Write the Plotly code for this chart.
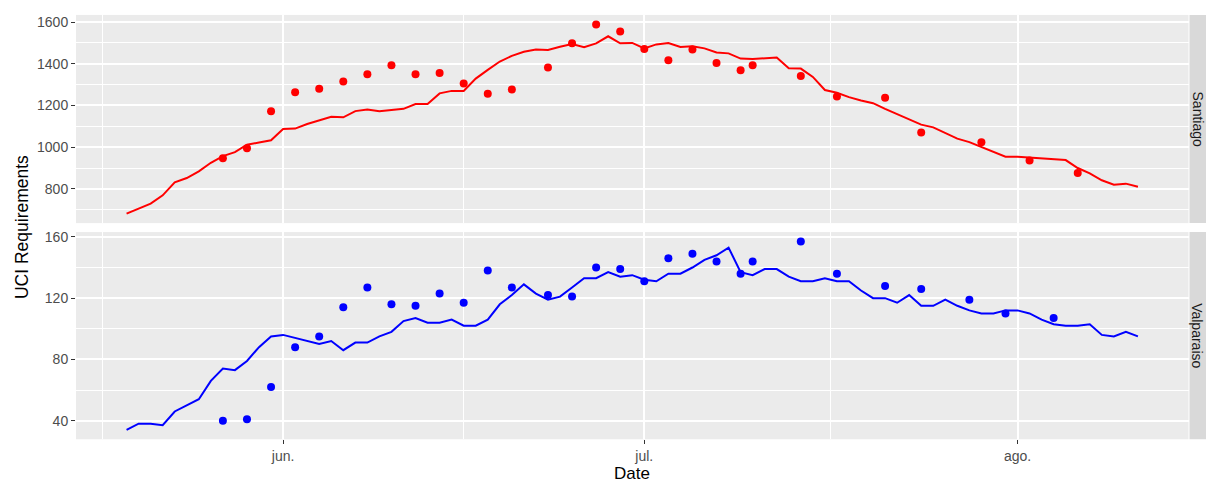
import pandas as pd
import plotly.graph_objects as go

# ---------------- data ----------------
line_dates = pd.date_range("2020-05-19", "2020-08-11", freq="D")

santiago_line = [681, 705, 729, 769, 831, 852, 884, 925, 957, 976, 1012, 1022, 1033,
                 1087, 1089, 1111, 1129, 1146, 1143, 1173, 1181, 1172, 1178,
                 1184, 1207, 1207, 1258, 1270, 1270, 1329, 1371, 1411, 1438,
                 1458, 1468, 1466, 1482, 1495, 1479, 1498, 1532, 1498, 1500,
                 1474, 1493, 1500, 1481, 1484, 1474, 1454, 1450, 1425, 1423,
                 1425, 1430, 1379, 1377, 1337, 1274, 1261, 1240, 1224, 1211,
                 1184, 1159, 1133, 1108, 1095, 1068, 1041, 1024, 1000, 976,
                 954, 954, 950, 945, 939, 938, 900, 874, 841, 820,
                 825, 810]

valparaiso_line = [34, 38, 38, 37, 46, 50, 54, 66, 74, 73, 79, 88, 95,
                   96, 94, 92, 90, 92, 86, 91, 91, 95, 98,
                   105, 107, 104, 104, 106, 102, 102, 106, 116, 122,
                   129, 123, 119, 121, 127, 133, 133, 137, 134, 135,
                   132, 131, 136, 136, 140, 145, 148, 153, 137, 135,
                   139, 139, 134, 131, 131, 133, 131, 131, 125, 120,
                   120, 117, 122, 115, 115, 119, 115, 112, 110, 110,
                   112, 112, 110, 106, 103, 102, 102, 103, 96, 95,
                   98, 95]

santiago_pt_dates = ["2020-05-27", "2020-05-29", "2020-05-31", "2020-06-02", "2020-06-04",
                     "2020-06-06", "2020-06-08", "2020-06-10", "2020-06-12", "2020-06-14",
                     "2020-06-16", "2020-06-18", "2020-06-20", "2020-06-23", "2020-06-25",
                     "2020-06-27", "2020-06-29", "2020-07-01", "2020-07-03", "2020-07-05",
                     "2020-07-07", "2020-07-09", "2020-07-10", "2020-07-14", "2020-07-17",
                     "2020-07-21", "2020-07-24", "2020-07-29", "2020-08-02", "2020-08-06"]
santiago_pts = [947, 995, 1172, 1264, 1280, 1315, 1350, 1393, 1350, 1356,
                1305, 1256, 1277, 1382, 1498, 1589, 1555, 1471, 1417, 1469,
                1404, 1369, 1393, 1342, 1243, 1237, 1070, 1024, 936, 876]

valparaiso_pt_dates = ["2020-05-27", "2020-05-29", "2020-05-31", "2020-06-02", "2020-06-04",
                       "2020-06-06", "2020-06-08", "2020-06-10", "2020-06-12", "2020-06-14",
                       "2020-06-16", "2020-06-18", "2020-06-20", "2020-06-23", "2020-06-25",
                       "2020-06-27", "2020-06-29", "2020-07-01", "2020-07-03", "2020-07-05",
                       "2020-07-07", "2020-07-09", "2020-07-10", "2020-07-14", "2020-07-17",
                       "2020-07-21", "2020-07-24", "2020-07-28", "2020-07-31", "2020-08-04"]
valparaiso_pts = [40, 41, 62, 88, 95, 114, 127, 116, 115, 123,
                  117, 138, 127, 122, 121, 140, 139, 131, 146, 149,
                  144, 136, 144, 157, 136, 128, 126, 119, 110, 107]

x_tickvals = ["2020-06-01", "2020-07-01", "2020-08-01"]
x_ticktext = ["jun.", "jul.", "ago."]
x_minor = ["2020-05-17", "2020-06-16", "2020-07-16 12:00"]
top_ticks = [800, 1000, 1200, 1400, 1600]
top_minor = [700, 900, 1100, 1300, 1500]
bot_ticks = [40, 80, 120, 160]
bot_minor = [60, 100, 140]

# ---------------- layout geometry (pixels) ----------------
W, H = 1206, 482
px = lambda v: v / W
py = lambda v: 1 - v / H
panel_l, panel_r = 76, 1188.5
top_t, top_b = 12, 221.5
bot_t, bot_b = 230.5, 439

def expand(lo, hi, f=0.05):
    d = hi - lo
    return [lo - f * d, hi + f * d]

all_dates = pd.to_datetime(list(line_dates) + santiago_pt_dates + valparaiso_pt_dates)
dmin, dmax = all_dates.min(), all_dates.max()
span = dmax - dmin
xr = [dmin - 0.05 * span, dmax + 0.05 * span]

yr_top = expand(min(santiago_line + santiago_pts), max(santiago_line + santiago_pts))
yr_bot = expand(min(valparaiso_line + valparaiso_pts), max(valparaiso_line + valparaiso_pts))

FONT = "Liberation Sans, Arial, sans-serif"
RED, BLUE = "#FF0000", "#0000FF"

fig = go.Figure()
fig.add_trace(go.Scatter(x=line_dates, y=santiago_line, mode="lines",
                         line=dict(color=RED, width=2), xaxis="x", yaxis="y"))
fig.add_trace(go.Scatter(x=santiago_pt_dates, y=santiago_pts, mode="markers",
                         marker=dict(color=RED, size=8, line=dict(width=0)), xaxis="x", yaxis="y"))
fig.add_trace(go.Scatter(x=line_dates, y=valparaiso_line, mode="lines",
                         line=dict(color=BLUE, width=2), xaxis="x2", yaxis="y2"))
fig.add_trace(go.Scatter(x=valparaiso_pt_dates, y=valparaiso_pts, mode="markers",
                         marker=dict(color=BLUE, size=8, line=dict(width=0)), xaxis="x2", yaxis="y2"))

common_x = dict(type="date", range=[xr[0].isoformat(), xr[1].isoformat()],
                domain=[px(panel_l), px(panel_r)], showgrid=True, gridcolor="white",
                gridwidth=2.2, zeroline=False, showline=False,
                tickvals=x_tickvals, ticktext=x_ticktext,
                minor=dict(tickvals=x_minor, showgrid=True, gridcolor="white", gridwidth=1.1, ticks=""),
                tickfont=dict(family=FONT, size=14, color="#4D4D4D"))
common_y = dict(showgrid=True, gridcolor="white", gridwidth=2.2, zeroline=False, showline=False,
                ticks="outside", ticklen=4, tickwidth=1.1, tickcolor="#333333",
                tickfont=dict(family=FONT, size=14, color="#4D4D4D"))

fig.update_layout(
    width=W, height=H,
    margin=dict(l=0, r=0, t=0, b=0),
    paper_bgcolor="white", plot_bgcolor="#EBEBEB",
    showlegend=False,
    xaxis=dict(common_x, anchor="y", showticklabels=False, ticks=""),
    xaxis2=dict(common_x, anchor="y2", ticks="outside", ticklen=4, tickwidth=1.1,
                tickcolor="#333333", matches="x"),
    yaxis=dict(common_y, domain=[py(top_b), py(top_t)], range=yr_top, anchor="x",
               tickvals=top_ticks,
               minor=dict(tickvals=top_minor, showgrid=True, gridcolor="white", gridwidth=1.1, ticks="")),
    yaxis2=dict(common_y, domain=[py(bot_b), py(bot_t)], range=yr_bot, anchor="x2",
                tickvals=bot_ticks,
                minor=dict(tickvals=bot_minor, showgrid=True, gridcolor="white", gridwidth=1.1, ticks="")),
    shapes=[
        dict(type="rect", xref="paper", yref="paper", x0=px(1189.5), x1=1,
             y0=py(top_b), y1=py(top_t), fillcolor="#D9D9D9", line=dict(width=0), layer="below"),
        dict(type="rect", xref="paper", yref="paper", x0=px(1189.5), x1=1,
             y0=py(bot_b), y1=py(bot_t), fillcolor="#D9D9D9", line=dict(width=0), layer="below"),
    ],
    annotations=[
        dict(text="Santiago", xref="paper", yref="paper", x=px(1197.5), y=py((top_t + top_b) / 2),
             textangle=90, showarrow=False, xanchor="center", yanchor="middle",
             font=dict(family=FONT, size=14, color="#1A1A1A")),
        dict(text="Valparaiso", xref="paper", yref="paper", x=px(1197.5), y=py((bot_t + bot_b) / 2),
             textangle=90, showarrow=False, xanchor="center", yanchor="middle",
             font=dict(family=FONT, size=14, color="#1A1A1A")),
        dict(text="UCI Requirements", xref="paper", yref="paper", x=px(22), y=py((top_t + bot_b) / 2),
             textangle=-90, showarrow=False, xanchor="center", yanchor="middle",
             font=dict(family=FONT, size=17.5, color="black")),
        dict(text="Date", xref="paper", yref="paper", x=px((panel_l + panel_r) / 2), y=py(473),
             showarrow=False, xanchor="center", yanchor="middle",
             font=dict(family=FONT, size=17, color="black")),
    ],
)

fig.write_html("out.html")
